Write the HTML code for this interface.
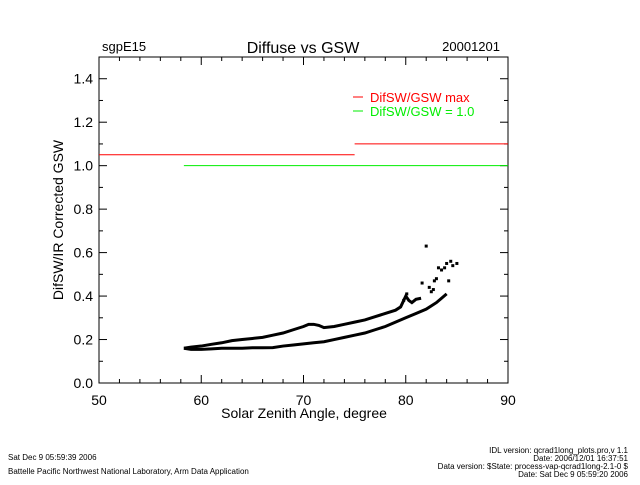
<!DOCTYPE html>
<html><head><meta charset="utf-8"><style>
body{margin:0;background:#fff;width:640px;height:480px;overflow:hidden;font-family:"Liberation Sans",sans-serif}
</style></head><body>
<svg id="c" width="640" height="480" xmlns="http://www.w3.org/2000/svg" font-family="Liberation Sans, sans-serif">
<rect width="640" height="480" fill="#fff"/>
<text x="102" y="51" font-size="13">sgpE15</text>
<text x="303" y="53" font-size="16" text-anchor="middle">Diffuse vs GSW</text>
<text x="500" y="51" font-size="13" text-anchor="end">20001201</text>
<g id="axes"></g>
<g id="marks"></g>
<text x="304" y="418" font-size="14" text-anchor="middle">Solar Zenith Angle, degree</text>
<text transform="translate(63,220) rotate(-90)" font-size="14" text-anchor="middle">DifSW/IR Corrected GSW</text>
<line x1="353" y1="97" x2="363" y2="97" stroke="#f00"/>
<text x="370" y="102" font-size="13" fill="#f00">DifSW/GSW max</text>
<line x1="353" y1="111" x2="363" y2="111" stroke="#0e0"/>
<text x="370" y="116" font-size="13" fill="#0e0">DifSW/GSW = 1.0</text>
<text x="8" y="460" font-size="8">Sat Dec  9 05:59:39 2006</text>
<text x="8" y="474" font-size="8">Battelle Pacific Northwest National Laboratory, Arm Data Application</text>
<text x="628" y="453" font-size="8" text-anchor="end">IDL version: qcrad1long_plots.pro,v 1.1</text>
<text x="628" y="461" font-size="8" text-anchor="end">Date: 2006/12/01 16:37:51</text>
<text x="628" y="469" font-size="8" text-anchor="end">Data version: $State: process-vap-qcrad1long-2.1-0 $</text>
<text x="628" y="477" font-size="8" text-anchor="end">Date: Sat Dec  9 05:59:20 2006</text>
</svg>
<script>
const xTicks=[50,60,70,80,90];
const yTicks=[0.0,0.2,0.4,0.6,0.8,1.0,1.2,1.4];
const lowerX=[58.3,59,60,61,62,63,64,65,66,67,68,69,70,71,72,73,74,75,76,77,78,79,80,81,82,82.5,83,83.5,84];
const lowerY=[0.16,0.155,0.155,0.157,0.16,0.16,0.16,0.162,0.162,0.163,0.17,0.175,0.18,0.185,0.19,0.2,0.21,0.22,0.23,0.245,0.26,0.28,0.3,0.32,0.34,0.355,0.37,0.39,0.41];
const upperX=[58.3,59,60,61,62,63,64,65,66,67,68,69,70,70.5,71,71.5,72,73,74,75,76,77,78,79,79.5,80,80.3,80.6,81,81.5];
const upperY=[0.16,0.165,0.17,0.178,0.185,0.195,0.2,0.205,0.21,0.22,0.23,0.245,0.26,0.27,0.27,0.265,0.255,0.26,0.27,0.28,0.29,0.305,0.32,0.335,0.35,0.40,0.38,0.37,0.385,0.39];
const scatterX=[79.8,80.1,81.6,82,82.3,82.5,82.7,82.8,83,83.2,83.5,83.8,84,84.2,84.4,84.6,85];
const scatterY=[0.38,0.41,0.46,0.63,0.44,0.42,0.43,0.47,0.48,0.53,0.52,0.53,0.55,0.47,0.56,0.54,0.55];
const maxLowX=[50,75];
const maxLowY=[1.05,1.05];
const maxHighX=[75,90];
const maxHighY=[1.1,1.1];
const oneX=[58.3,90];
const oneY=[1.0,1.0];
const X0=99,X1=508,Y0=383,Y1=57;
const sx=v=>X0+(v-50)/40*(X1-X0);
const sy=v=>Y0-(v/1.5)*(Y0-Y1);
const NS='http://www.w3.org/2000/svg';
function mk(t,a,p){const e=document.createElementNS(NS,t);for(const k in a)e.setAttribute(k,a[k]);p.appendChild(e);return e;}
const ax=document.getElementById('axes'),mg=document.getElementById('marks');
const fr=mk('rect',{x:X0,y:Y1,width:X1-X0,height:Y0-Y1,fill:'none',stroke:'#000'},ax);


for(let v=50;v<=90;v+=2){const x=sx(v),L=(v%10===0)?8:4;
mk('line',{x1:x,y1:Y0,x2:x,y2:Y0-L,stroke:'#000'},ax);mk('line',{x1:x,y1:Y1,x2:x,y2:Y1+L,stroke:'#000'},ax);}
for(let i=0;i<=15;i++){const v=i*0.1,y=sy(v),L=(i%2===0)?8:4;
mk('line',{x1:X0,y1:y,x2:X0+L,y2:y,stroke:'#000'},ax);mk('line',{x1:X1,y1:y,x2:X1-L,y2:y,stroke:'#000'},ax);}
xTicks.forEach(v=>{const t=mk('text',{x:sx(v),y:Y0+22,'font-size':14,'text-anchor':'middle'},ax);t.textContent=v;

});
yTicks.forEach(v=>{const t=mk('text',{x:X0-6,y:sy(v)+5,'font-size':14,'text-anchor':'end'},ax);t.textContent=v.toFixed(1);

});
function line(xs,ys,col,w,name){const p=mk('polyline',{points:xs.map((x,i)=>sx(x)+','+sy(ys[i])).join(' '),fill:'none',stroke:col,'stroke-width':w},mg);

}
line(maxLowX,maxLowY,'#f00',1,'max-ratio-line-low');
line(maxHighX,maxHighY,'#f00',1,'max-ratio-line-high');
line(oneX,oneY,'#0e0',1,'unity-line');
line(lowerX,lowerY,'#000',3,'lower-series');
line(upperX,upperY,'#000',3,'upper-series');
scatterX.forEach((x,i)=>{const r=mk('rect',{x:sx(x)-1.5,y:sy(scatterY[i])-1.5,width:3,height:3,fill:'#000'},mg);

});
</script>
</body></html>
